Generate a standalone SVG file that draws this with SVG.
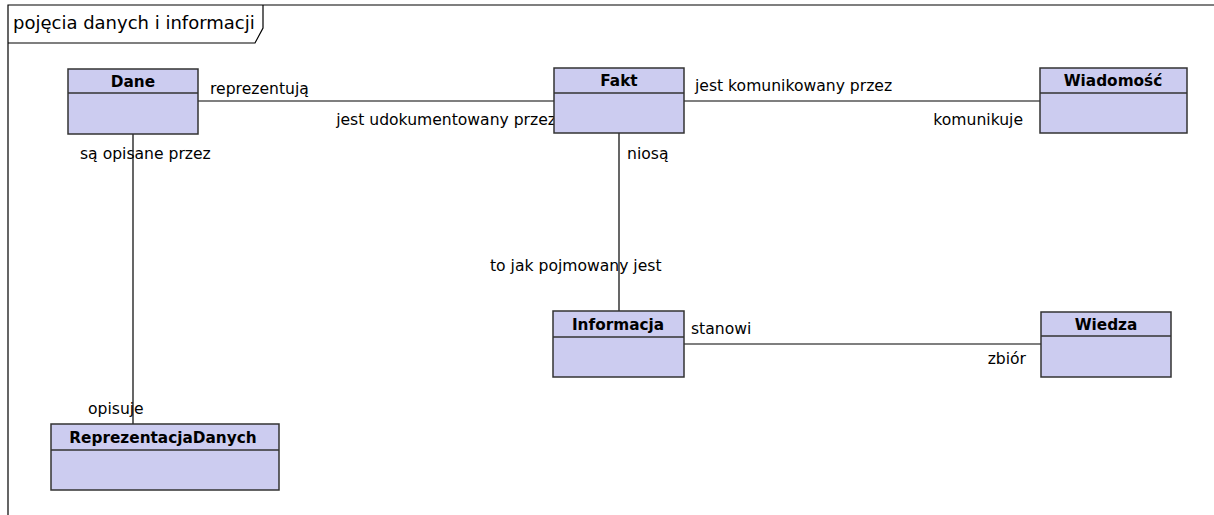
<svg xmlns="http://www.w3.org/2000/svg" width="1214" height="515" viewBox="0 0 1214 515">
<style>
text{font-family:"DejaVu Sans",Verdana,sans-serif;font-size:15.6px;fill:#000}
.t{font-weight:bold;text-anchor:middle;font-size:15.3px}
.box{fill:#ccccf0;stroke:#333;stroke-width:1.5}
.div{stroke:#333;stroke-width:1.5}
.c line{stroke:#000;stroke-width:1.2}
.e{text-anchor:end}
</style>
<rect width="1214" height="515" fill="#fff"/>
<g id="frame">
<path d="M8,520 V5 H1220" fill="none" stroke="#000" stroke-width="1.2"/>
<path d="M8,43 H255 L263,28 V5" fill="none" stroke="#000" stroke-width="1.2"/>
<text x="13" y="29" style="font-size:18px">pojęcia danych i informacji</text>
</g>
<g class="c" id="connectors">
<line x1="198" y1="101" x2="554" y2="101"/>
<line x1="684" y1="101" x2="1040" y2="101"/>
<line x1="619" y1="133" x2="619" y2="311"/>
<line x1="133" y1="134" x2="133" y2="424"/>
<line x1="684" y1="344" x2="1041" y2="344"/>
<text x="210" y="94">reprezentują</text>
<text x="556" y="125" class="e">jest udokumentowany przez</text>
<text x="695" y="91">jest komunikowany przez</text>
<text x="1023" y="125" class="e">komunikuje</text>
<text x="80" y="159">są opisane przez</text>
<text x="627" y="159">niosą</text>
<text x="490" y="271">to jak pojmowany jest</text>
<text x="691" y="334">stanowi</text>
<text x="1026" y="364" class="e">zbiór</text>
<text x="88" y="414">opisuje</text>
</g>
<g id="Dane"><rect class="box" x="68" y="69" width="130" height="65"/><line class="div" x1="68" y1="93" x2="198" y2="93"/><text class="t" x="133" y="87">Dane</text></g>
<g id="Fakt"><rect class="box" x="554" y="68" width="130" height="65"/><line class="div" x1="554" y1="93" x2="684" y2="93"/><text class="t" x="619" y="86">Fakt</text></g>
<g id="Wiadomosc"><rect class="box" x="1040" y="68" width="147" height="65"/><line class="div" x1="1040" y1="93" x2="1187" y2="93"/><text class="t" x="1113" y="86">Wiadomość</text></g>
<g id="Informacja"><rect class="box" x="553" y="311" width="131" height="66"/><line class="div" x1="553" y1="337" x2="684" y2="337"/><text class="t" x="618" y="330">Informacja</text></g>
<g id="Wiedza"><rect class="box" x="1041" y="312" width="130" height="65"/><line class="div" x1="1041" y1="336" x2="1171" y2="336"/><text class="t" x="1106" y="330">Wiedza</text></g>
<g id="ReprezentacjaDanych"><rect class="box" x="51" y="424" width="228" height="66"/><line class="div" x1="51" y1="450" x2="279" y2="450"/><text class="t" x="163" y="443">ReprezentacjaDanych</text></g>
</svg>
